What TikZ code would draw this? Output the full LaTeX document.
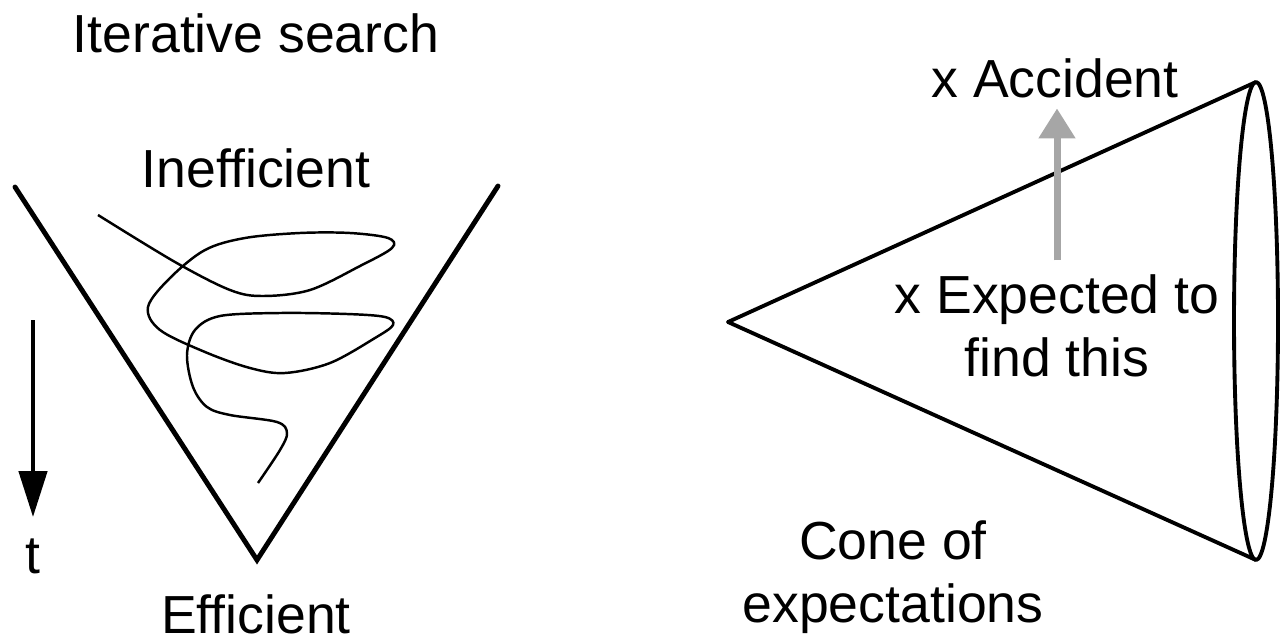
\documentclass[tikz,border=0pt]{standalone}
\usepackage{fontspec}
\setmainfont{Liberation Sans}
\usepackage{tikz}
\usetikzlibrary{arrows.meta,positioning,calc}

\begin{document}
\begin{tikzpicture}[
    x=0.02cm, y=-0.02cm,
    label/.style={font=\fontsize{30.5}{36}\selectfont, align=center, inner sep=0pt},
    wall/.style={line width=2.8pt, line cap=round},
    conewall/.style={line width=2.2pt, line join=round},
    path/.style={line width=1.4pt},
    timearrow/.style={line width=2.2pt, -{Triangle[length=26pt,width=16pt]}},
    hintarrow/.style={line width=4pt, draw=black!35, -{Triangle[length=17pt,width=20pt]}}
]
\useasboundingbox (0,0) rectangle (1280,642);

% left: iterative search
\node[label, anchor=base] (title) at (256,53) {Iterative search};
\node[label, anchor=base] (ineff) at (256,187) {Inefficient};
\node[label, anchor=base] (eff) at (256,633) {Efficient};
\node[label, anchor=base] (t) at (33,573) {t};
\coordinate (tstart) at (33,320);

\coordinate (vleft) at (15,187);
\coordinate (vtip) at (257,560);
\coordinate (vright) at (498,186);
\draw[wall] (vleft) -- (vtip) -- (vright);

\draw[timearrow] (tstart) -- ([yshift=12pt]t.north);

\draw[path] plot[smooth, tension=0.55] coordinates {
    (98,215) (175,262) (230,290) (263,296) (310,290) (360,266) (392,248)
    (388,238) (350,233) (300,233) (245,238) (205,250) (170,278) (148,307)
    (160,330) (205,352) (250,368) (285,373) (330,363) (375,338) (393,325)
    (385,317) (347,314) (280,313) (220,316) (195,330) (187,355) (193,387)
    (207,407) (230,415) (277,422) (287,433) (280,450) (258,483)};

% right: cone of expectations
\coordinate (apex) at (728,322);
\coordinate (rimtop) at (1256,82);
\coordinate (rimbot) at (1256,560);
\draw[conewall] (rimtop) -- (apex) -- (rimbot);
\draw[conewall] (1256,321) ellipse [x radius=22, y radius=239];

\node[label, anchor=base] (accident) at (1055,97) {x Accident};
\node[label] (expected) at (1057,326) {x Expected to\\find this};
\node[label] (cone) at (893,577) {Cone of\\expectations};

\draw[hintarrow] ([yshift=8pt]expected.north) -- ([yshift=-6pt]accident.south -| expected.north);

\end{tikzpicture}
\end{document}
